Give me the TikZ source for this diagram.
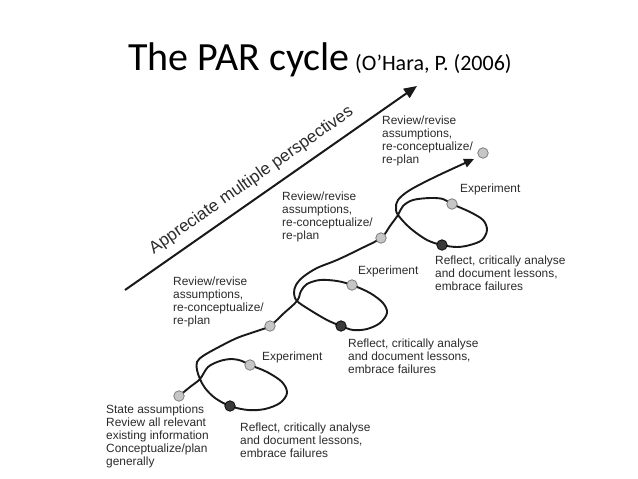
\documentclass[tikz,border=0pt]{standalone}
\usepackage{fontspec}
\setmainfont{Carlito}
\newfontfamily\arialf{Liberation Sans}
\usetikzlibrary{arrows.meta}
\definecolor{txt}{HTML}{2B2B2B}
\definecolor{lightc}{HTML}{C6C6C6}
\definecolor{darkc}{HTML}{3A3A3A}
\begin{document}
\begin{tikzpicture}[x=1pt,y=-1pt,
  lbl/.style={anchor=north west, inner sep=0pt, align=left, font=\arialf\fontsize{11.9}{12.9}\selectfont, text=txt},
  litecirc/.style={circle, draw=black!55, fill=lightc, line width=0.7pt, minimum size=10.5pt, inner sep=0pt},
  darkcirc/.style={circle, draw=black, fill=darkc, line width=0.7pt, minimum size=10.5pt, inner sep=0pt},
  curveline/.style={line width=1.9pt, black!90, line join=round},
]
\fill[white] (0,0) rectangle (638,479);
\useasboundingbox (0,0) rectangle (638,479);

% title
\node[anchor=base west, inner sep=0pt, font=\fontsize{40}{42}\selectfont] (title) at (128,70) {The PAR cycle};
\node[anchor=base west, inner sep=0pt, font=\fontsize{22}{24}\selectfont] (cite) at (355,70) {(O’Hara, P. (2006)};

% big arrow
\coordinate (aS) at (125,290);
\coordinate (aE) at (417,86);
\draw[line width=2pt, black!90, -{Triangle[length=13pt,width=11pt]}] (aS) -- (aE);
\node[rotate=35, anchor=base, inner sep=0pt, font=\arialf\fontsize{17}{18}\selectfont, text=txt] (app) at (254,184) {Appreciate multiple perspectives};

% circle positions
\coordinate (pS) at (179,396);
\coordinate (pE1) at (250,365);
\coordinate (pR1) at (230,406);
\coordinate (pV1) at (270,326);
\coordinate (pE2) at (352,285);
\coordinate (pR2) at (341,326);
\coordinate (pV2) at (381,238);
\coordinate (pE3) at (452,204);
\coordinate (pR3) at (442,245);
\coordinate (pEnd) at (483,153);
\coordinate (pTip) at (474,159);

% the spiral path
\draw[curveline, -{Triangle[length=10pt,width=9pt]}] plot[smooth, tension=0.55] coordinates {
 (pS) (190,387) (200,379) (208,367) (220,361) (232,359) (242,361) (pE1)
 (267,372) (282,382) (287,393) (280,403) (265,409) (248,410) (pR1)
 (215,398) (205,388) (200,379) (197,370) (197,362) (203,356) (217,348) (237,338) (257,331) (pV1)
 (283,314) (297,301) (301,291) (307,284) (320,280) (337,281) (pE2)
 (370,293) (383,303) (387,313) (380,323) (367,329) (353,330) (pR2)
 (327,320) (310,310) (297,301) (294,293) (296,285) (303,277) (317,268) (337,260) (360,249) (pV2)
 (390,226) (398,215) (403,206) (413,200) (430,198) (443,199) (pE3)
 (470,212) (483,220) (487,230) (482,240) (470,245) (457,247) (pR3)
 (427,240) (410,228) (398,215) (396,208) (398,200) (410,190) (437,176) (pTip)
};

% circles
\node[litecirc] (cS) at (pS) {};
\node[litecirc] (cE1) at (pE1) {};
\node[darkcirc] (cR1) at (pR1) {};
\node[litecirc] (cV1) at (pV1) {};
\node[litecirc] (cE2) at (pE2) {};
\node[darkcirc] (cR2) at (pR2) {};
\node[litecirc] (cV2) at (pV2) {};
\node[litecirc] (cE3) at (pE3) {};
\node[darkcirc] (cR3) at (pR3) {};
\node[litecirc] (cEnd) at (pEnd) {};

% labels
\node[lbl] (lS) at (106,405) {State assumptions\\Review all relevant\\existing information\\Conceptualize/plan\\generally};
\node[lbl] (lR1) at (240,423) {Reflect, critically analyse\\and document lessons,\\embrace failures};
\node[lbl] (lE1) at (262,352) {Experiment};
\node[lbl] (lV1) at (173,277) {Review/revise\\assumptions,\\re-conceptualize/\\re-plan};
\node[lbl] (lE2) at (358,266) {Experiment};
\node[lbl] (lR2) at (348,339) {Reflect, critically analyse\\and document lessons,\\embrace failures};
\node[lbl] (lV2) at (282,192) {Review/revise\\assumptions,\\re-conceptualize/\\re-plan};
\node[lbl] (lE3) at (460,184) {Experiment};
\node[lbl] (lR3) at (435,256) {Reflect, critically analyse\\and document lessons,\\embrace failures};
\node[lbl] (lV3) at (382,116) {Review/revise\\assumptions,\\re-conceptualize/\\re-plan};
\end{tikzpicture}
\end{document}
